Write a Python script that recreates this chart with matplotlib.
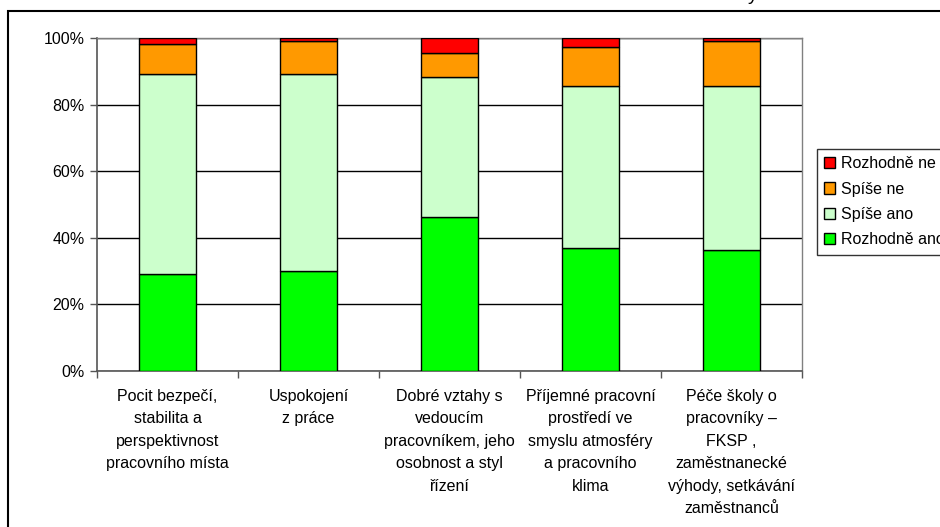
import numpy as np
import matplotlib.pyplot as plt
from matplotlib.patches import Rectangle
from matplotlib.ticker import PercentFormatter

plt.rcParams['font.family'] = ['Liberation Sans', 'DejaVu Sans']
plt.rcParams['font.size'] = 11.5

# Categories (x-axis labels)
categories = [
    "Pocit bezpečí,\nstabilita a\nperspektivnost\npracovního místa",
    "Uspokojení\nz práce",
    "Dobré vztahy s\nvedoucím\npracovníkem, jeho\nosobnost a styl\nřízení",
    "Příjemné pracovní\nprostředí ve\nsmyslu atmosféry\na pracovního\nklima",
    "Péče školy o\npracovníky –\nFKSP ,\nzaměstnanecké\nvýhody, setkávání\nzaměstnanců",
]

# Shares of answers in percent, bottom to top
rozhodne_ano = [29.2, 30.1, 46.3, 36.9, 36.2]
spise_ano = [60.0, 59.1, 42.1, 48.8, 49.5]
spise_ne = [8.9, 10.0, 7.0, 11.6, 13.5]
rozhodne_ne = [1.9, 0.8, 4.6, 2.7, 0.8]

series = [
    ("Rozhodně ano", rozhodne_ano, "#00FF00"),
    ("Spíše ano", spise_ano, "#CCFFCC"),
    ("Spíše ne", spise_ne, "#FF9900"),
    ("Rozhodně ne", rozhodne_ne, "#FF0000"),
]

fig = plt.figure(figsize=(9.4, 5.27), dpi=100)
ax = fig.add_axes([97 / 940, 1 - 371 / 527, 705 / 940, 333 / 527])

x = np.arange(len(categories))
bottom = np.zeros(len(categories))
handles = []
for name, vals, color in series:
    vals = np.array(vals)
    h = ax.bar(x, vals, width=0.4, bottom=bottom, color=color,
               edgecolor="black", linewidth=1.0, label=name, zorder=3)
    handles.append(h)
    bottom += vals

ax.set_xlim(-0.5, len(categories) - 0.5)
ax.set_ylim(0, 100)
ax.set_yticks(np.arange(0, 101, 20))
ax.yaxis.set_major_formatter(PercentFormatter(decimals=0))
ax.yaxis.grid(True, color="black", linewidth=1.0, zorder=0)

# category labels centred under bars, ticks on category boundaries
ax.set_xticks(x)
ax.set_xticklabels(categories, linespacing=1.62, va="top")
ax.tick_params(axis="x", length=0, pad=13)
ax.set_xticks(np.arange(-0.5, len(categories)), minor=True)
ax.tick_params(axis="x", which="minor", length=5, width=1.0, color="#555555")
ax.tick_params(axis="y", length=5, width=1.0, color="#555555", pad=4)

for side in ["top", "right"]:
    ax.spines[side].set_color("#808080")
    ax.spines[side].set_linewidth(1.0)
for side in ["left", "bottom"]:
    ax.spines[side].set_color("#555555")
    ax.spines[side].set_linewidth(1.2)

leg = fig.legend(handles[::-1], [s[0] for s in series][::-1],
                 loc="upper left", bbox_to_anchor=(817 / 940, 1 - 149 / 527),
                 frameon=True, fancybox=False, edgecolor="black",
                 handlelength=0.7, handleheight=0.7, handletextpad=0.35,
                 labelspacing=0.65, borderpad=0.45, borderaxespad=0)
leg.get_frame().set_linewidth(1.0)

# outer chart frame, the chart title sits above the visible area
fig.patches.append(Rectangle((8 / 940, -0.1), 1.2, 1 - 11 / 527 + 0.1,
                             transform=fig.transFigure, fill=False,
                             edgecolor="black", linewidth=1.5))
fig.text(748 / 940, 1.0, "y", ha="left", va="baseline", fontsize=14)

fig.savefig("out.png", dpi=100)
